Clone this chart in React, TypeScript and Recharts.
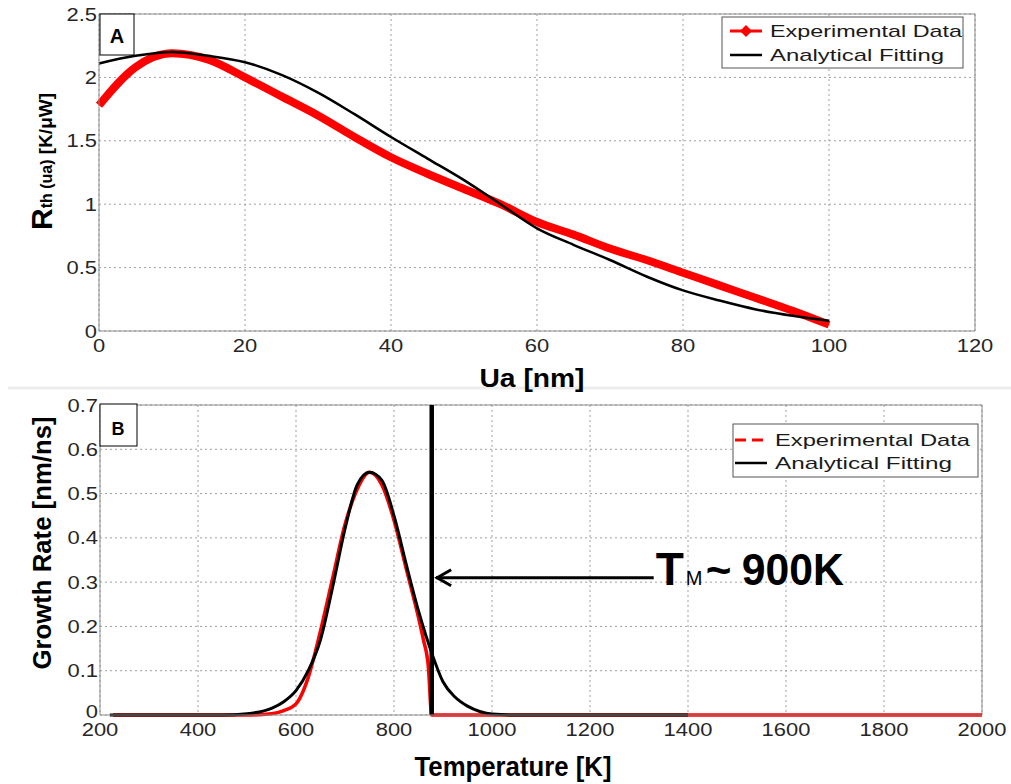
import { CartesianGrid, Line, LineChart, ReferenceLine, XAxis, YAxis } from "recharts";

// panel A: thermal resistance vs. ua
const uaNm = [0, 5, 10, 15, 20, 25, 30, 35, 40, 45, 50, 55, 60, 65, 70, 75, 80, 85, 90, 95, 100];
const rthExperimental = [1.78, 2.08, 2.19, 2.14, 2.0, 1.85, 1.7, 1.53, 1.37, 1.24, 1.12, 1.0, 0.86, 0.76, 0.65, 0.56, 0.46, 0.36, 0.26, 0.16, 0.05];
const rthFitting = [2.11, 2.17, 2.2, 2.17, 2.12, 2.02, 1.88, 1.71, 1.53, 1.36, 1.19, 1.0, 0.81, 0.68, 0.56, 0.43, 0.32, 0.24, 0.17, 0.12, 0.08];
const uaTicks = [0, 20, 40, 60, 80, 100, 120];
const rthTicks = [0, 0.5, 1, 1.5, 2, 2.5];

// panel B: growth rate vs. temperature
const tempExperimental = [227, 300, 400, 500, 550, 575, 600, 625, 650, 675, 700, 725, 750, 775, 800, 825, 850, 860, 870, 877, 900, 1000, 1200, 1400, 1600, 1800, 2000];
const rateExperimental = [0, 0, 0, 0, 0.003, 0.01, 0.025, 0.085, 0.19, 0.31, 0.43, 0.51, 0.548, 0.52, 0.44, 0.33, 0.22, 0.17, 0.11, 0, 0, 0, 0, 0, 0, 0, 0];
const tempFitting = [220, 300, 400, 450, 500, 550, 575, 600, 625, 650, 675, 700, 725, 750, 775, 800, 825, 850, 877, 900, 925, 950, 975, 1000, 1050, 1200, 1400];
const rateFitting = [0, 0, 0, 0, 0.003, 0.015, 0.03, 0.055, 0.1, 0.17, 0.29, 0.42, 0.52, 0.548, 0.53, 0.45, 0.34, 0.235, 0.14, 0.075, 0.04, 0.02, 0.008, 0.002, 0, 0, 0];
const tempTicks = [200, 400, 600, 800, 1000, 1200, 1400, 1600, 1800, 2000];
const rateTicks = [0, 0.1, 0.2, 0.3, 0.4, 0.5, 0.6, 0.7];

const meltingTemp = 877;
const arrowTailTemp = 1330;
const arrowTipTemp = 886;
const arrowRate = 0.31;

const panelA = uaNm.map((ua, i) => ({ ua, exp: rthExperimental[i], fit: rthFitting[i] }));
const expB = tempExperimental.map((t, i) => ({ t, rate: rateExperimental[i] }));
const fitB = tempFitting.map((t, i) => ({ t, rate: rateFitting[i] }));

const FONT = "'Liberation Sans', Arial, sans-serif";
const AXIS = "#8c8c8c";
const GRID = "#a0a0a0";

const XTick = ({ x, y, payload }: any) => (
  <g transform={`translate(${x},${y})`}>
    <text transform="scale(1.22,1)" textAnchor="middle" y={21} fontSize={18} fill="#262626" fontFamily={FONT}>
      {payload.value}
    </text>
  </g>
);

// zeroLift nudges the "0" label up so it clears the first x label
const YTick = ({ x, y, payload, zeroLift = 0 }: any) => (
  <g transform={`translate(${x - 2},${y - (payload.value === 0 ? zeroLift : 0)})`}>
    <text transform="scale(1.22,1)" textAnchor="end" y={6.5} fontSize={18} fill="#262626" fontFamily={FONT}>
      {payload.value}
    </text>
  </g>
);

const MeltArrow = (props: any) => {
  const { x1, y1, x2, y2 } = props;
  return (
    <g>
      <line x1={x1} y1={y1} x2={x2} y2={y2} stroke="#000" strokeWidth={3} />
      <polyline
        points={`${x2 + 15},${y2 - 8} ${x2 + 1},${y2} ${x2 + 15},${y2 + 8}`}
        fill="none"
        stroke="#000"
        strokeWidth={3}
      />
      <text y={y1 + 7} fontFamily={FONT} fill="#000">
        <tspan x={x1 + 2} fontSize={46} fontWeight="bold">T</tspan>
        <tspan x={x1 + 32} fontSize={20}>M</tspan>
        <tspan x={x1 + 52} fontSize={44} fontWeight="bold">~</tspan>
        <tspan x={x1 + 88} fontSize={44} fontWeight="bold" textLength={102} lengthAdjust="spacingAndGlyphs">900K</tspan>
      </text>
    </g>
  );
};

export default function App() {
  return (
    <div style={{ position: "absolute", left: 0, top: 0, width: 1011, height: 784, background: "#fff" }}>
      <div style={{ position: "absolute", left: 0, top: 0 }}>
        <LineChart width={1011} height={385} data={panelA} margin={{ top: 14, right: 36, left: 0, bottom: 0 }}>
          <CartesianGrid strokeDasharray="2 3" stroke={GRID} />
          <XAxis
            dataKey="ua"
            type="number"
            domain={[0, 120]}
            ticks={uaTicks}
            height={54}
            tickLine={false}
            tickSize={0}
            tickMargin={0}
            stroke={AXIS}
            tick={<XTick />}
          />
          <YAxis
            type="number"
            domain={[0, 2.5]}
            ticks={rthTicks}
            width={99}
            tickLine={false}
            tickSize={0}
            tickMargin={0}
            stroke={AXIS}
            tick={<YTick />}
          />
          <ReferenceLine y={2.5} stroke={AXIS} />
          <ReferenceLine x={120} stroke={AXIS} />
          <Line type="monotone" dataKey="exp" stroke="#ff0000" strokeWidth={8} dot={false} activeDot={false} isAnimationActive={false} />
          <Line type="monotone" dataKey="fit" stroke="#000" strokeWidth={2.5} dot={false} activeDot={false} isAnimationActive={false} />
        </LineChart>
      </div>
      <div style={{ position: "absolute", left: 0, top: 385 }}>
        <LineChart width={1011} height={399} margin={{ top: 20, right: 29, left: 0, bottom: 0 }}>
          <CartesianGrid strokeDasharray="2 3" stroke={GRID} />
          <XAxis
            dataKey="t"
            type="number"
            domain={[200, 2000]}
            ticks={tempTicks}
            height={69}
            tickLine={false}
            tickSize={0}
            tickMargin={0}
            stroke={AXIS}
            tick={<XTick />}
            allowDuplicatedCategory={false}
          />
          <YAxis
            type="number"
            domain={[0, 0.7]}
            ticks={rateTicks}
            width={100}
            tickLine={false}
            tickSize={0}
            tickMargin={0}
            stroke={AXIS}
            tick={<YTick zeroLift={4} />}
          />
          <ReferenceLine y={0.7} stroke={AXIS} />
          <ReferenceLine x={2000} stroke={AXIS} />
          <Line data={expB} type="monotone" dataKey="rate" stroke="#ff0000" strokeWidth={3.5} dot={false} activeDot={false} isAnimationActive={false} />
          <Line data={fitB} type="monotone" dataKey="rate" stroke="#000" strokeWidth={3} dot={false} activeDot={false} isAnimationActive={false} />
          <ReferenceLine x={meltingTemp} stroke="#000" strokeWidth={4.5} />
          <ReferenceLine
            segment={[
              { x: arrowTailTemp, y: arrowRate },
              { x: arrowTipTemp, y: arrowRate },
            ]}
            shape={<MeltArrow />}
          />
        </LineChart>
      </div>
      <svg width={1011} height={784} style={{ position: "absolute", left: 0, top: 0, pointerEvents: "none" }}>
        <line x1={8} y1={388} x2={1011} y2={388} stroke="#ececec" strokeWidth={3} />

        {/* panel tags */}
        <rect x={100} y={14} width={34} height={41} fill="#fff" stroke="#000" />
        <text x={117} y={43} textAnchor="middle" fontSize={20} fontWeight="bold" fontFamily={FONT}>A</text>
        <rect x={100} y={404} width={37} height={42} fill="#fff" stroke="#000" />
        <text x={118} y={435} textAnchor="middle" fontSize={18} fontWeight="bold" fontFamily={FONT}>B</text>

        {/* legend A */}
        <rect x={722} y={17} width={241} height={51} fill="#fff" stroke="#555" />
        <line x1={730} y1={31} x2={762} y2={31} stroke="#ff0000" strokeWidth={3} />
        <path d="M746,25 L752,31 L746,37 L740,31 Z" fill="#ff0000" />
        <text x={770} y={37} fontSize={17} fontFamily={FONT} fill="#1a1a1a" textLength={192} lengthAdjust="spacingAndGlyphs">Experimental Data</text>
        <line x1={730} y1={55} x2={762} y2={55} stroke="#000" strokeWidth={2.5} />
        <text x={770} y={61} fontSize={17} fontFamily={FONT} fill="#1a1a1a" textLength={174} lengthAdjust="spacingAndGlyphs">Analytical Fitting</text>

        {/* legend B */}
        <rect x={733} y={424} width={245} height={53} fill="#fff" stroke="#555" />
        <line x1={735} y1={440} x2={767} y2={440} stroke="#ff0000" strokeWidth={3} strokeDasharray="11 6" />
        <text x={775} y={446} fontSize={17} fontFamily={FONT} fill="#1a1a1a" textLength={195} lengthAdjust="spacingAndGlyphs">Experimental Data</text>
        <line x1={735} y1={463} x2={767} y2={463} stroke="#000" strokeWidth={2.5} />
        <text x={775} y={469} fontSize={17} fontFamily={FONT} fill="#1a1a1a" textLength={177} lengthAdjust="spacingAndGlyphs">Analytical Fitting</text>

        {/* axis titles */}
        <text transform="translate(52,230) rotate(-90)" fontFamily={FONT} fontWeight="bold" fill="#000">
          <tspan fontSize={30}>R</tspan>
          <tspan fontSize={16}>th (ua)</tspan>
          <tspan fontSize={19}> [K/μW]</tspan>
        </text>
        <text x={532} y={387} textAnchor="middle" fontFamily={FONT} fontWeight="bold" fontSize={25} textLength={105} lengthAdjust="spacingAndGlyphs">
          Ua [nm]
        </text>
        <text
          transform="translate(42,543) rotate(-90)"
          textAnchor="middle"
          dominantBaseline="central"
          fontFamily={FONT}
          fontWeight="bold"
          fontSize={25}
          textLength={253}
          lengthAdjust="spacingAndGlyphs"
        >
          Growth Rate [nm/ns]
        </text>
        <text x={513} y={776} textAnchor="middle" fontFamily={FONT} fontWeight="bold" fontSize={27} textLength={197} lengthAdjust="spacingAndGlyphs">
          Temperature [K]
        </text>
      </svg>
    </div>
  );
}
